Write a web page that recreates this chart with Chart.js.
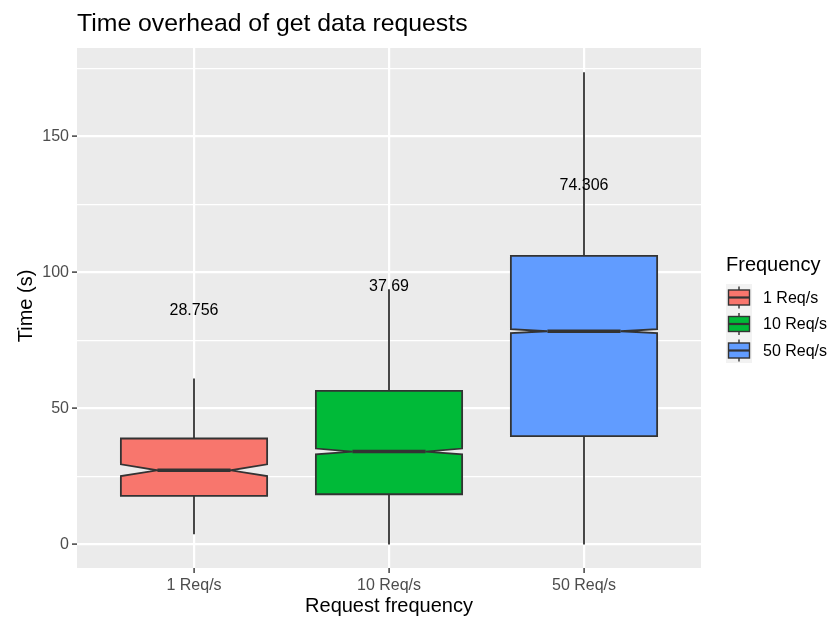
<!DOCTYPE html>
<html>
<head>
<meta charset="utf-8">
<script src="https://cdn.jsdelivr.net/npm/chart.js@4.4.0/dist/chart.umd.min.js"></script>
<style>
  html, body { margin: 0; padding: 0; background: #fff; }
</style>
</head>
<body>
<canvas id="chart" width="832" height="619"></canvas>
<script>
// box summary values (seconds)
const categories = ['1 Req/s', '10 Req/s', '50 Req/s'];
const fillColors = ['#F8766D', '#00BA38', '#619CFF'];
const whiskerLow = [3.8, 0, 0];
const q1 = [17.9, 18.5, 39.9];
const notchLow = [25.2, 33.2, 77.7];
const median = [27.3, 34.2, 78.4];
const notchHigh = [29.5, 35.3, 79.2];
const q3 = [39.0, 56.5, 106.1];
const whiskerHigh = [61.0, 93.2, 173.6];
const meanText = ['28.756', '37.69', '74.306'];
const meanTextY = [86.0, 94.8, 131.9];
const yTicks = [0, 25, 50, 75, 100, 125, 150, 175];
const yLabels = [0, 50, 100, 150];

const FONT = '"Liberation Sans", Arial, sans-serif';
const LINE = '#333333';

const boxPlot = {
  id: 'boxPlot',
  beforeDraw(chart) {
    const { ctx, chartArea: a } = chart;
    ctx.save();
    ctx.fillStyle = '#EBEBEB';
    ctx.fillRect(a.left, a.top, a.right - a.left, a.bottom - a.top);
    ctx.restore();
  },
  afterDatasetsDraw(chart) {
    const { ctx } = chart;
    const x = chart.scales.x, y = chart.scales.y;
    const half = 0.375, notchHalf = 0.1875;
    ctx.save();
    categories.forEach((c, i) => {
      const xc = x.getPixelForValue(i + 1);
      const xl = x.getPixelForValue(i + 1 - half);
      const xr = x.getPixelForValue(i + 1 + half);
      const nl = x.getPixelForValue(i + 1 - notchHalf);
      const nr = x.getPixelForValue(i + 1 + notchHalf);
      ctx.strokeStyle = LINE;
      ctx.lineWidth = 1.8;
      // whiskers
      ctx.beginPath();
      ctx.moveTo(xc, y.getPixelForValue(q3[i]));
      ctx.lineTo(xc, y.getPixelForValue(whiskerHigh[i]));
      ctx.moveTo(xc, y.getPixelForValue(q1[i]));
      ctx.lineTo(xc, y.getPixelForValue(whiskerLow[i]));
      ctx.stroke();
      // notched box
      ctx.beginPath();
      ctx.moveTo(xl, y.getPixelForValue(q3[i]));
      ctx.lineTo(xl, y.getPixelForValue(notchHigh[i]));
      ctx.lineTo(nl, y.getPixelForValue(median[i]));
      ctx.lineTo(xl, y.getPixelForValue(notchLow[i]));
      ctx.lineTo(xl, y.getPixelForValue(q1[i]));
      ctx.lineTo(xr, y.getPixelForValue(q1[i]));
      ctx.lineTo(xr, y.getPixelForValue(notchLow[i]));
      ctx.lineTo(nr, y.getPixelForValue(median[i]));
      ctx.lineTo(xr, y.getPixelForValue(notchHigh[i]));
      ctx.lineTo(xr, y.getPixelForValue(q3[i]));
      ctx.closePath();
      ctx.fillStyle = fillColors[i];
      ctx.fill();
      ctx.stroke();
      // median
      ctx.lineWidth = 3.6;
      ctx.beginPath();
      ctx.moveTo(nl, y.getPixelForValue(median[i]));
      ctx.lineTo(nr, y.getPixelForValue(median[i]));
      ctx.stroke();
      // mean label
      ctx.fillStyle = '#000';
      ctx.font = '16px ' + FONT;
      ctx.textAlign = 'center';
      ctx.textBaseline = 'middle';
      ctx.fillText(meanText[i], xc, y.getPixelForValue(meanTextY[i]));
    });
    ctx.restore();
  },
  afterDraw(chart) {
    const { ctx, chartArea: a } = chart;
    ctx.save();
    ctx.fillStyle = '#000';
    ctx.textBaseline = 'middle';
    // title
    ctx.font = '24.8px ' + FONT;
    ctx.textAlign = 'left';
    ctx.fillText('Time overhead of get data requests', a.left, 24);
    // axis titles
    ctx.font = '20px ' + FONT;
    ctx.textAlign = 'center';
    ctx.fillText('Request frequency', (a.left + a.right) / 2, 606);
    ctx.save();
    ctx.translate(26, 306);
    ctx.rotate(-Math.PI / 2);
    ctx.fillText('Time (s)', 0, 0);
    ctx.restore();
    // legend
    ctx.textAlign = 'left';
    ctx.fillText('Frequency', 726, 265);
    const rowY = [297.5, 324, 350.5];
    ctx.fillStyle = '#F2F2F2';
    ctx.fillRect(726, 284, 26, 79);
    ctx.font = '16px ' + FONT;
    categories.forEach((c, i) => {
      const cy = rowY[i];
      ctx.strokeStyle = LINE;
      ctx.lineWidth = 1.4;
      ctx.beginPath();
      ctx.moveTo(739, cy - 11);
      ctx.lineTo(739, cy + 11);
      ctx.stroke();
      ctx.fillStyle = fillColors[i];
      ctx.fillRect(728.5, cy - 7.5, 21, 15);
      ctx.strokeRect(728.5, cy - 7.5, 21, 15);
      ctx.lineWidth = 2.2;
      ctx.beginPath();
      ctx.moveTo(728.5, cy);
      ctx.lineTo(749.5, cy);
      ctx.stroke();
      ctx.fillStyle = '#000';
      ctx.fillText(c, 763, cy + 1);
    });
    ctx.restore();
  }
};

new Chart(document.getElementById('chart'), {
  type: 'scatter',
  data: {
    datasets: [{
      data: categories.map((c, i) => ({ x: i + 1, y: whiskerHigh[i] })),
      pointRadius: 0,
      showLine: false
    }]
  },
  options: {
    responsive: false,
    animation: false,
    layout: { padding: { top: 48, right: 131, left: 0, bottom: 0 } },
    plugins: { legend: { display: false }, tooltip: { enabled: false }, title: { display: false } },
    scales: {
      x: {
        type: 'linear',
        min: 0.4,
        max: 3.6,
        afterFit: s => { s.height = 51; },
        afterBuildTicks: s => { s.ticks = categories.map((c, i) => ({ value: i + 1 })); },
        border: { display: false },
        grid: { color: '#FFFFFF', lineWidth: 2.2, tickColor: LINE, tickLength: 5, tickWidth: 1.4 },
        ticks: {
          autoSkip: false,
          maxRotation: 0,
          padding: 3,
          color: '#4D4D4D',
          font: { family: FONT, size: 16 },
          callback: v => categories[v - 1] || ''
        }
      },
      y: {
        min: -8.6,
        max: 182.5,
        afterFit: s => { s.width = 77; },
        afterBuildTicks: s => { s.ticks = yTicks.map(v => ({ value: v })); },
        border: { display: false },
        grid: {
          color: '#FFFFFF',
          lineWidth: ctx => (yLabels.includes(ctx.tick && ctx.tick.value) ? 2.2 : 1.2),
          tickColor: ctx => (yLabels.includes(ctx.tick && ctx.tick.value) ? LINE : 'rgba(0,0,0,0)'),
          tickLength: 5,
          tickWidth: 1.4
        },
        ticks: {
          autoSkip: false,
          padding: 3,
          color: '#4D4D4D',
          font: { family: FONT, size: 16 },
          callback: v => (yLabels.includes(v) ? String(v) : '')
        }
      }
    }
  },
  plugins: [boxPlot]
});
</script>
</body>
</html>
